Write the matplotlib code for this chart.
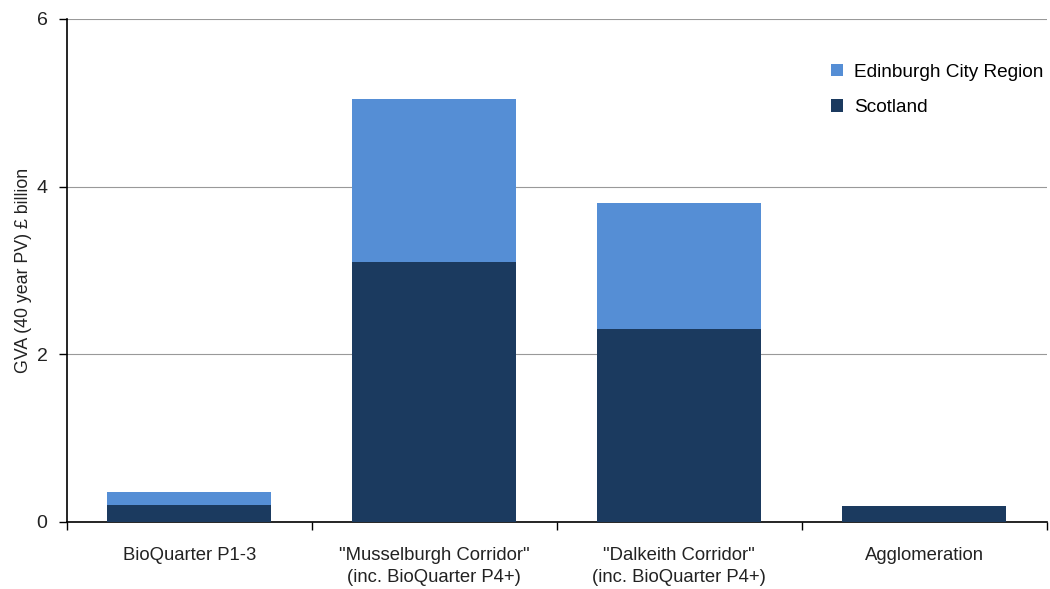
import numpy as np
import matplotlib.pyplot as plt

plt.rcParams['font.family'] = ['Liberation Sans', 'DejaVu Sans']

categories = ["BioQuarter P1-3",
              "\"Musselburgh Corridor\"\n(inc. BioQuarter P4+)",
              "\"Dalkeith Corridor\"\n(inc. BioQuarter P4+)",
              "Agglomeration"]
scotland = [0.20, 3.10, 2.30, 0.19]
edinburgh = [0.16, 1.95, 1.50, 0.0]

fig = plt.figure(figsize=(10.5, 5.89), dpi=100)
ax = fig.add_axes([0.0638, 0.1138, 0.933, 0.854])

x = np.arange(len(categories))
w = 0.67
ax.bar(x, scotland, w, color="#1B3A5F", label="Scotland", zorder=3)
ax.bar(x, edinburgh, w, bottom=scotland, color="#558ED5",
       label="Edinburgh City Region", zorder=3)

ax.set_xlim(-0.5, 3.5)
ax.set_ylim(0, 6)
ax.set_yticks([0, 2, 4, 6])
ax.yaxis.grid(True, color="#999999", linewidth=0.8, zorder=0)
ax.set_xticks(x)
ax.set_xticklabels(categories, fontsize=13.3, color="#222222",
                   linespacing=1.35)
ax.set_xticks(np.arange(-0.5, 4.0, 1.0), minor=True)
ax.tick_params(axis="x", which="major", length=0, pad=18)
ax.tick_params(axis="x", which="minor", length=6, width=1, direction="out")
ax.tick_params(axis="y", length=6, width=1, direction="out", labelsize=14,
               labelcolor="#222222", pad=8)
ax.set_ylabel("GVA (40 year PV) £ billion", fontsize=12.8, color="#222222",
              labelpad=3)

for s in ["top", "right"]:
    ax.spines[s].set_visible(False)
ax.spines["left"].set_linewidth(1.2)
ax.spines["bottom"].set_linewidth(1.2)

handles, labels = ax.get_legend_handles_labels()
ax.legend(handles[::-1], labels[::-1], loc="upper right",
          bbox_to_anchor=(1.014, 0.945), frameon=False, fontsize=13.7,
          handlelength=0.65, handleheight=0.65, handletextpad=0.55,
          labelspacing=0.95)

plt.savefig("out.png", dpi=100)
